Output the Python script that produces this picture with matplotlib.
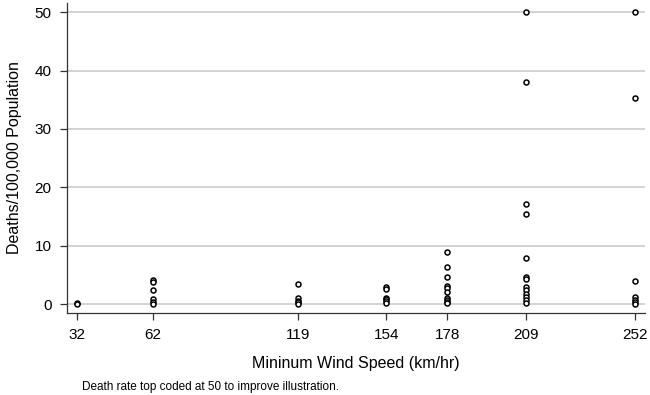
import matplotlib
matplotlib.use("Agg")
import matplotlib.pyplot as plt

plt.rcParams['font.family'] = ['Liberation Sans', 'DejaVu Sans']

# wind speed categories (km/hr) and death rates per 100,000
wind_speeds = [32, 62, 119, 154, 178, 209, 252]
death_rates = [
    [0.1, 0.0],
    [4.1, 3.7, 2.4, 0.8, 0.4, 0.05],
    [3.5, 1.0, 0.6, 0.3, 0.05],
    [3.0, 2.6, 1.1, 0.8, 0.45, 0.1],
    [9.0, 6.4, 4.7, 3.1, 2.7, 2.1, 1.0, 0.7, 0.4, 0.1],
    [50, 38.1, 17.2, 15.4, 7.9, 4.6, 4.3, 2.9, 2.4, 1.8, 1.2, 0.7, 0.1],
    [50, 35.3, 3.9, 1.2, 0.7, 0.3, 0.0],
]
y_ticks = [0, 10, 20, 30, 40, 50]

xs = []
ys = []
for w, rates in zip(wind_speeds, death_rates):
    xs.extend([w] * len(rates))
    ys.extend(rates)

fig = plt.figure(figsize=(6.5, 3.95), dpi=100)
ax = fig.add_axes([0.103, 0.208, 0.889, 0.785])

ax.plot(xs, ys, linestyle='none', marker='o', markersize=3.6,
        markerfacecolor='white', markeredgecolor='black', markeredgewidth=1.1,
        zorder=3)

ax.set_xlim(28, 256)
ax.set_ylim(-1.5, 51.6)
ax.set_xticks(wind_speeds)
ax.set_yticks(y_ticks)
ax.tick_params(axis='both', labelsize=11, length=5, width=0.9,
               color='#333333', pad=6)
ax.grid(axis='y', color='#cccccc', linewidth=1.2)
ax.set_axisbelow(True)

for side in ['top', 'right']:
    ax.spines[side].set_visible(False)
for side in ['left', 'bottom']:
    ax.spines[side].set_color('#333333')
    ax.spines[side].set_linewidth(0.9)

ax.set_ylabel('Deaths/100,000 Population', fontsize=11.5, labelpad=9)
ax.set_xlabel('Mininum Wind Speed (km/hr)', fontsize=11.5, labelpad=10)
fig.text(0.126, 0.02, 'Death rate top coded at 50 to improve illustration.',
         fontsize=8.5, ha='left', va='center')

fig.savefig('out.png', dpi=100)
